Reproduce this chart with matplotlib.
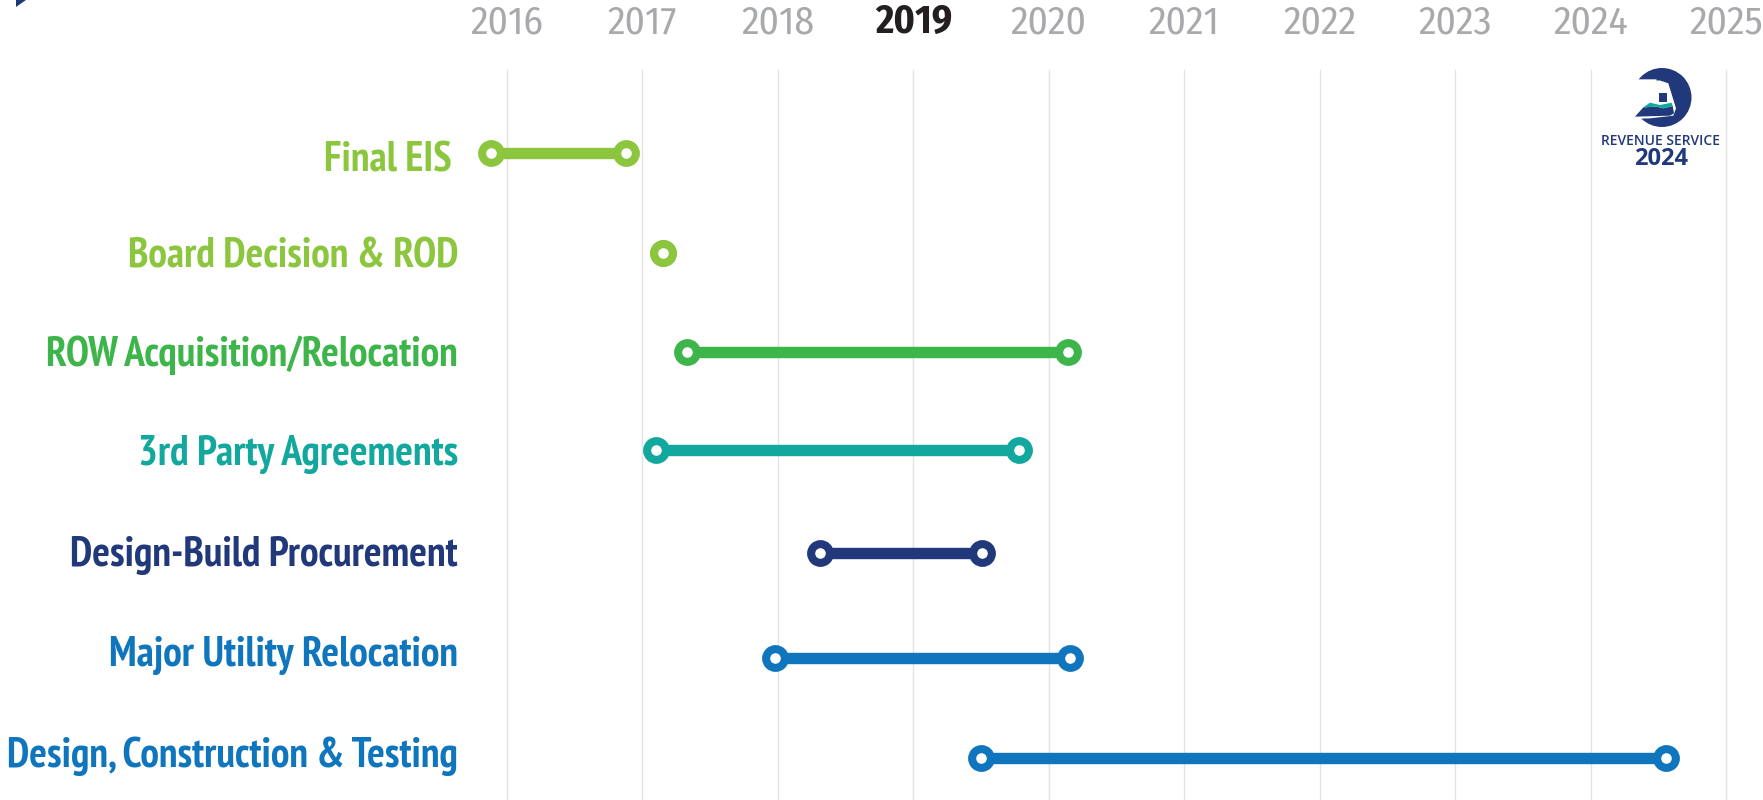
import matplotlib
matplotlib.use("Agg")
import matplotlib.pyplot as plt
from matplotlib.patches import Circle, Polygon

label_font = ['PT Sans Narrow', 'Barlow Condensed', 'Liberation Sans', 'DejaVu Sans']
year_font = ['Fira Sans Condensed', 'Liberation Sans', 'DejaVu Sans']
logo_font = ['Open Sans', 'DejaVu Sans']

# data
tasks = ['Final EIS', 'Board Decision & ROD', 'ROW Acquisition/Relocation', '3rd Party Agreements',
         'Design-Build Procurement', 'Major Utility Relocation', 'Design, Construction & Testing']
starts = [2015.88, 2017.15, 2017.33, 2017.10, 2018.31, 2017.98, 2019.50]
ends = [2016.88, 2017.15, 2020.14, 2019.78, 2019.51, 2020.16, 2024.56]
colors = ['#8cc63f', '#8cc63f', '#3db54a', '#13a89e', '#21397b', '#0f75bd', '#0f75bd']
years = [2016, 2017, 2018, 2019, 2020, 2021, 2022, 2023, 2024, 2025]
highlight_year = 2019

# layout, in pixels of the 1763x800 figure
W, H = 1763, 800
x2016, x2025 = 507, 1726
row_y = [153, 253, 352, 450, 553, 658, 758]
label_base = [171, 267, 366, 465, 566, 666, 767]
label_right = [452, 458, 458, 458, 458, 458, 458]
longest_label_px = 452
px_per_year = (x2025 - x2016) / 9

fig = plt.figure(figsize=(W / 100, H / 100), dpi=100)
ax = fig.add_axes([0, 0, 1, 1])
ax.set_xlim(2016 - x2016 / px_per_year, 2016 + (W - x2016) / px_per_year)
ax.set_ylim(H, 0)
ax.axis('off')

for y in years:
    ax.plot([y, y], [70, H], color='#e2e3e5', lw=1, zorder=1)
    if y == highlight_year:
        ax.text(y, 33, str(y), ha='center', va='baseline', fontsize=28.5, fontweight='bold', color='#231f20',
                family=year_font)
    else:
        ax.text(y, 33, str(y), ha='center', va='baseline', fontsize=28.5, color='#a7a9ac', family=year_font)

labels = []
for i in range(len(tasks)):
    ax.plot([starts[i], ends[i]], [row_y[i], row_y[i]], color=colors[i], lw=8.2, zorder=2,
            solid_capstyle='butt')
    ax.plot([starts[i], ends[i]], [row_y[i], row_y[i]], ls='none', marker='o', ms=13.5, mew=5.8,
            mec=colors[i], mfc='white', zorder=3)
    labels.append(ax.text(2016 + (label_right[i] - x2016) / px_per_year, label_base[i], tasks[i], ha='right',
                          va='baseline', fontsize=36, fontweight='bold', color=colors[i], family=label_font))

# shrink the labels if the longest one would not fit in the left margin
renderer = fig.canvas.get_renderer()
widest = max(t.get_window_extent(renderer).width for t in labels)
if widest > longest_label_px:
    for t in labels:
        t.set_fontsize(36 * longest_label_px / widest)

# overlay in pixels for the logo
ov = fig.add_axes([0, 0, 1, 1])
ov.set_xlim(0, W)
ov.set_ylim(H, 0)
ov.axis('off')
ov.patch.set_alpha(0)
navy = '#21397b'


def zp(pts):
    return [(1500 + a / 3, 50 + b / 3) for a, b in pts]


ov.add_patch(Circle((1662, 97.5), 29.5, fc=navy, ec='none'))
ov.add_patch(Polygon(zp([(385, 88), (470, 88), (505, 100), (528, 175), (520, 197), (450, 205), (385, 207)]),
                     fc='white', ec='none'))
ov.add_patch(Polygon(zp([(405, 200), (430, 172), (470, 170), (490, 175), (518, 168), (522, 190), (510, 197)]),
                     fc=navy, ec='none'))
ov.add_patch(Polygon(zp([(430, 172), (450, 158), (480, 165), (515, 158), (518, 168), (490, 175), (470, 170)]),
                     fc='#13a89e', ec='none'))
ov.add_patch(Polygon(zp([(478, 128), (500, 128), (500, 155), (478, 155)]), fc=navy, ec='none'))
ov.add_patch(Polygon(zp([(465, 60), (500, 88), (470, 92)]), fc=navy, ec='none'))
ov.text(1660.5, 141, 'REVENUE SERVICE', ha='center', va='center', fontsize=10, family=logo_font,
        fontweight='semibold', color=navy)
ov.text(1661, 159, '2024', ha='center', va='center', fontsize=17, family=logo_font,
        fontweight='bold', color=navy)
# scrap of the cropped logo in the top left corner
ov.add_patch(Polygon([(16, 0), (26, 0), (16, 7)], fc=navy, ec='none'))

fig.savefig('out.png', dpi=100)
